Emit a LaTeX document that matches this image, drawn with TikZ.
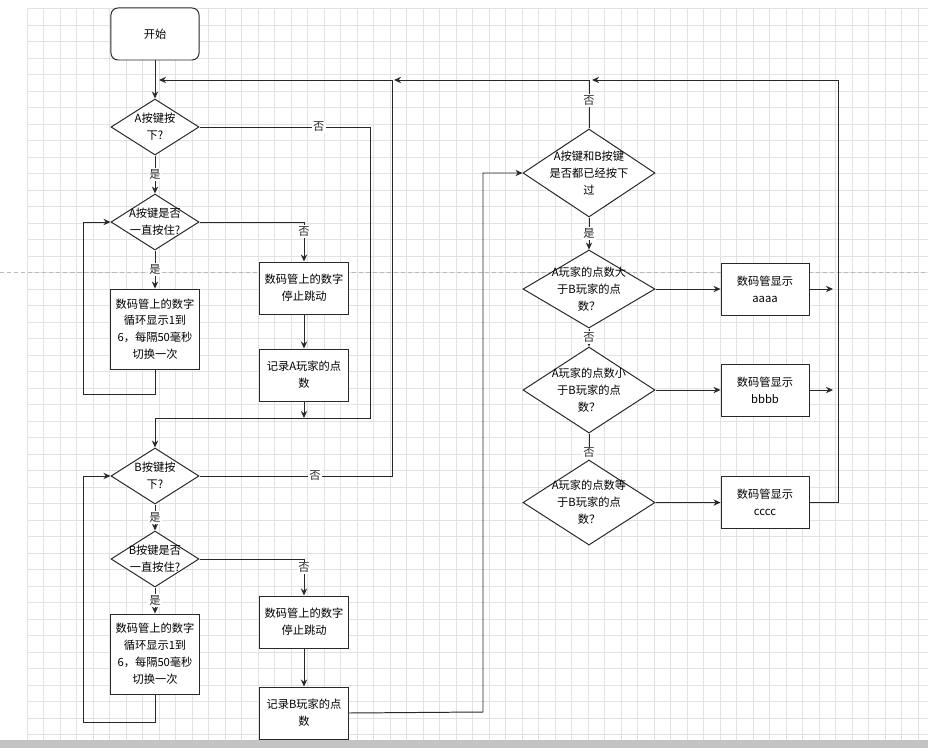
\documentclass[tikz,border=0pt]{standalone}
\usepackage{fontspec}
\setmainfont{Noto Sans CJK SC}
\usepackage{tikz}
\usetikzlibrary{shapes.geometric, arrows.meta, positioning, calc}
\definecolor{mydark}{RGB}{40,40,40}
\definecolor{mygrid}{RGB}{226,226,226}
\definecolor{mybreak}{RGB}{185,185,185}
\definecolor{mybar}{RGB}{195,195,195}
\newcommand{\cnfont}{\fontsize{8pt}{12pt}\selectfont}
\tikzset{
  block/.style={rectangle, draw=mydark, fill=white,
    minimum width=2.2cm, minimum height=1.3cm, inner sep=1pt,
    align=center, font=\cnfont, line width=0.7pt},
  startbox/.style={block, rounded corners=5pt},
  loopbox/.style={block, minimum height=2.0cm},
  decA/.style={diamond, draw=mydark, fill=white, inner sep=0pt,
    minimum width=2.2cm, minimum height=1.4cm, line width=0.7pt},
  decW/.style={decA, minimum width=3.3cm},
  dtext/.style={align=center, font=\cnfont, inner sep=0pt},
  lbl/.style={fill=white, font=\cnfont, inner sep=1pt},
  arrow/.style={-{Stealth[length=5pt, width=4.5pt]}, line width=0.7pt, color=mydark},
  line/.style={line width=0.7pt, color=mydark},
  gridline/.style={line width=0.5pt, color=mygrid},
  pagebreak/.style={line width=0.6pt, color=mybreak, dash pattern=on 3pt off 2pt}
}

\begin{document}
\begin{tikzpicture}[x=0.025cm, y=-0.025cm]
  \useasboundingbox (0,0) rectangle (928,748);

  % ── Background grid ──────────────────────────────────────────────────────
  \fill[white] (0,0) rectangle (928,748);
  \foreach \i in {0,...,54}
    \draw[gridline] ({27.3+16.5*\i},8.5) -- ({27.3+16.5*\i},740);
  \foreach \j in {0,...,44}
    \draw[gridline] (27.3,{8.5+16.5*\j}) -- (928,{8.5+16.5*\j});
  \draw[pagebreak] (0,272) -- (928,272);
  \fill[mybar] (0,740) rectangle (928,748);

  % ── Player A (left column) ───────────────────────────────────────────────
  \node[startbox] (start) at (155,34) {开始};
  \node[decA, below=0.95cm of start] (dA) {};
  \node[dtext] (tA) at (dA) {A按键按\\下?};
  \node[decA, below=0.95cm of dA] (dAhold) {};
  \node[dtext] (tAhold) at (dAhold) {A按键是否\\一直按住?};
  \node[loopbox, below=0.95cm of dAhold] (cycA) {数码管上的数字\\循环显示1到\\6，每隔50毫秒\\切换一次};
  \node[block] (stopA) at (304,288) {数码管上的数字\\停止跳动};
  \node[block, below=0.85cm of stopA] (recA) {记录A玩家的点\\数};

  % ── Player B ─────────────────────────────────────────────────────────────
  \node[decA] (dB) at (155,476) {};
  \node[dtext] (tB) at (dB) {B按键按\\下?};
  \node[decA, below=0.65cm of dB] (dBhold) {};
  \node[dtext] (tBhold) at (dBhold) {B按键是否\\一直按住?};
  \node[loopbox, below=0.65cm of dBhold] (cycB) {数码管上的数字\\循环显示1到\\6，每隔50毫秒\\切换一次};
  \node[block] (stopB) at (304,622) {数码管上的数字\\停止跳动};
  \node[block, below=0.95cm of stopB] (recB) {记录B玩家的点\\数};

  % ── Compare scores (right column) ────────────────────────────────────────
  \node[decW, minimum height=2.2cm] (dAll) at (589,173) {};
  \node[dtext] (tAll) at (dAll) {A按键和B按键\\是否都已经按下\\过};
  \node[decW, minimum height=1.95cm, below=0.8cm of dAll] (dGt) {};
  \node[dtext] (tGt) at (dGt) {A玩家的点数大\\于B玩家的点\\数？};
  \node[decW, minimum height=2.15cm, below=0.45cm of dGt] (dLt) {};
  \node[dtext] (tLt) at (dLt) {A玩家的点数小\\于B玩家的点\\数？};
  \node[decW, minimum height=2.125cm, below=0.65cm of dLt] (dEq) {};
  \node[dtext] (tEq) at (dEq) {A玩家的点数等\\于B玩家的点\\数？};
  \node[block, right=1.625cm of dGt] (showA) {数码管显示\\aaaa};
  \node[block, right=1.625cm of dLt] (showB) {数码管显示\\bbbb};
  \node[block, right=1.625cm of dEq] (showC) {数码管显示\\cccc};

  % ── Way points ───────────────────────────────────────────────────────────
  \coordinate (rA)      at (370,418);
  \coordinate (joinA)   at (155,418);
  \coordinate (loopA)   at (83,394);
  \coordinate (loopB)   at (83,722);
  \coordinate (upB)     at (392,80);
  \coordinate (topA)    at (159,80);
  \coordinate (joinB)   at (394,80);
  \coordinate (joinAll) at (592,80);
  \coordinate (rt)      at (838,80);
  \coordinate (tipR)    at (833,0);
  \coordinate (midR)    at (483,712);

  % ── Player A flow ────────────────────────────────────────────────────────
  \draw[arrow] (start) -- (dA);
  \draw[arrow] (dA.south) -- node[lbl] {是} (dAhold.north);
  \draw[arrow] (dA.east) -| node[lbl, pos=0.35] {否} (rA) -- (joinA) -- (dB.north);
  \draw[arrow] (dAhold.south) -- node[lbl] {是} (cycA.north);
  \draw[arrow] (dAhold.east) -| node[lbl, pos=0.62] {否} (stopA.north);
  \draw[arrow] (cycA.south) |- (loopA) |- (dAhold.west);
  \draw[arrow] (stopA) -- (recA);
  \draw[arrow] (recA.south) -- (recA.south |- joinA);

  % ── Player B flow ────────────────────────────────────────────────────────
  \draw[arrow] (dB.east) -| node[lbl, pos=0.3] {否} (upB) -- (topA);
  \draw[arrow] (dB.south) -- node[lbl] {是} (dBhold.north);
  \draw[arrow] (dBhold.south) -- node[lbl] {是} (cycB.north);
  \draw[arrow] (dBhold.east) -| node[lbl, pos=0.62] {否} (stopB.north);
  \draw[arrow] (cycB.south) |- (loopB) |- (dB.west);
  \draw[arrow] (stopB) -- (recB);
  \draw[arrow] (recB.east) -- (midR) |- (dAll.west);

  % ── Comparison flow ──────────────────────────────────────────────────────
  \draw[arrow] (dAll.north) |- node[lbl, pos=0.29] {否} (joinB);
  \draw[arrow] (dAll.south) -- node[lbl] {是} (dGt.north);
  \draw[arrow] (dGt.south) -- node[lbl] {否} (dLt.north);
  \draw[arrow] (dLt.south) -- node[lbl, pos=0.75] {否} (dEq.north);
  \draw[arrow] (dGt) -- (showA);
  \draw[arrow] (dLt) -- (showB);
  \draw[arrow] (dEq) -- (showC);
  \draw[arrow] (showA.east) -- (showA.east -| tipR);
  \draw[arrow] (showB.east) -- (showB.east -| tipR);
  \draw[arrow] (showC.east) -| (rt) -- (joinAll);
\end{tikzpicture}
\end{document}
